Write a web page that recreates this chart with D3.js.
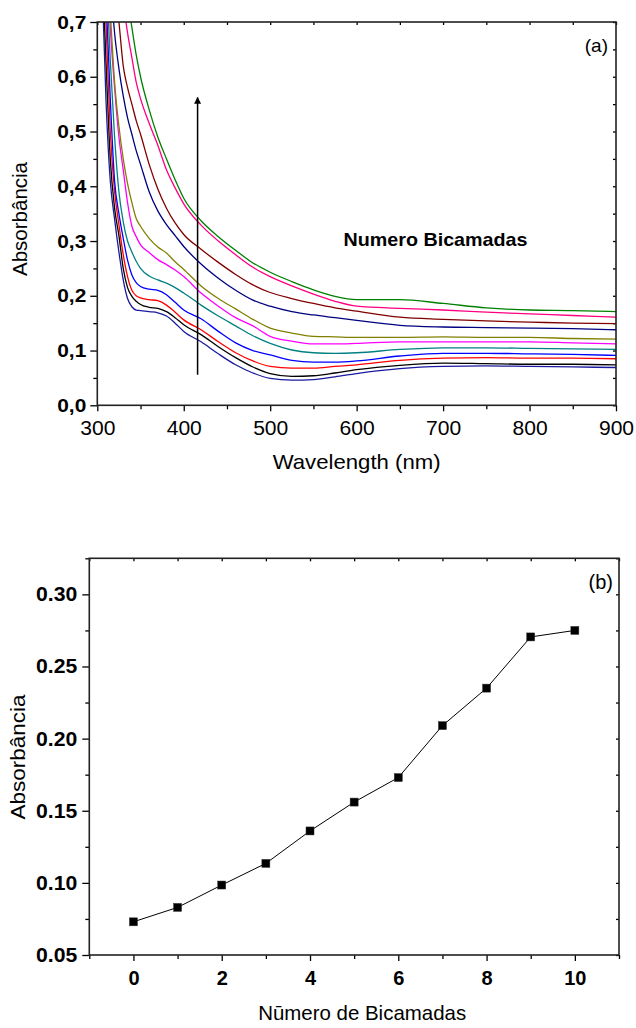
<!DOCTYPE html>
<html><head><meta charset="utf-8">
<script src="https://cdn.jsdelivr.net/npm/d3@7"></script>
<style>
html,body{margin:0;padding:0;background:#fff;}
svg{display:block;font-family:"Liberation Sans",Arial,sans-serif;}
</style></head>
<body>
<svg id="c" width="636" height="1028"></svg>
<script>
// ---------- data: panel (a) ----------
const wavelengths = [300,305,310,315,320,325,330,335,340,345,350,360,370,380,390,400,420,440,460,480,500,525,550,575,600,650,700,750,800,850,900];
const abs0  = [1.0,0.80,0.56,0.41,0.34,0.28,0.229,0.195,0.18,0.174,0.173,0.171,0.169,0.163,0.15,0.135,0.116,0.094,0.074,0.059,0.049,0.046,0.047,0.052,0.058,0.067,0.071,0.072,0.071,0.070,0.069];
const abs1  = [1.0,0.83,0.63,0.45,0.36,0.31,0.25,0.215,0.199,0.19,0.184,0.179,0.177,0.171,0.16,0.147,0.129,0.107,0.087,0.07,0.058,0.053,0.054,0.059,0.065,0.073,0.077,0.076,0.075,0.075,0.074];
const abs2  = [1.0,0.87,0.70,0.50,0.39,0.33,0.275,0.235,0.21,0.2,0.196,0.193,0.191,0.183,0.17,0.156,0.138,0.116,0.096,0.081,0.071,0.068,0.068,0.071,0.074,0.082,0.086,0.087,0.086,0.086,0.085];
const abs3  = [1.0,0.90,0.75,0.56,0.41,0.35,0.305,0.265,0.238,0.224,0.217,0.212,0.21,0.202,0.188,0.174,0.158,0.135,0.114,0.1,0.092,0.082,0.079,0.079,0.081,0.09,0.095,0.095,0.094,0.093,0.091];
const abs4  = [1.0,0.93,0.80,0.63,0.49,0.39,0.335,0.30,0.28,0.263,0.25,0.236,0.229,0.223,0.215,0.205,0.183,0.163,0.145,0.127,0.113,0.101,0.096,0.095,0.096,0.102,0.105,0.105,0.104,0.103,0.102];
const abs5  = [1.0,0.95,0.85,0.69,0.58,0.49,0.43,0.37,0.327,0.308,0.293,0.279,0.266,0.257,0.247,0.235,0.205,0.181,0.16,0.145,0.126,0.117,0.112,0.112,0.113,0.116,0.116,0.116,0.116,0.114,0.112];
const abs6  = [1.0,0.97,0.87,0.72,0.59,0.51,0.45,0.405,0.37,0.341,0.327,0.305,0.289,0.278,0.262,0.248,0.218,0.195,0.176,0.157,0.141,0.132,0.126,0.125,0.124,0.124,0.125,0.124,0.124,0.122,0.121];
const abs7  = [1.0,1.0,0.9,0.78,0.68,0.615,0.565,0.525,0.495,0.465,0.44,0.39,0.355,0.33,0.31,0.29,0.258,0.232,0.21,0.192,0.181,0.171,0.165,0.16,0.155,0.146,0.143,0.142,0.141,0.14,0.138];
const abs8  = [1.0,1.0,0.95,0.86,0.77,0.70,0.62,0.58,0.55,0.52,0.495,0.44,0.395,0.36,0.333,0.312,0.285,0.261,0.239,0.22,0.206,0.195,0.186,0.178,0.172,0.161,0.157,0.154,0.152,0.15,0.149];
const abs9  = [1.0,1.0,1.0,0.95,0.9,0.82,0.74,0.68,0.635,0.59,0.56,0.515,0.475,0.43,0.397,0.368,0.329,0.3,0.275,0.252,0.235,0.218,0.203,0.19,0.181,0.177,0.174,0.17,0.167,0.164,0.161];
const abs10 = [1.0,1.0,1.0,1.0,0.95,0.87,0.8,0.74,0.69,0.64,0.6,0.54,0.49,0.45,0.412,0.378,0.337,0.308,0.283,0.26,0.243,0.226,0.211,0.199,0.193,0.193,0.186,0.178,0.174,0.173,0.171];
const spectra = [abs0,abs1,abs2,abs3,abs4,abs5,abs6,abs7,abs8,abs9,abs10];
const spectraColors = ["#1a1aa0","#000000","#ff0000","#0000ff","#008080","#ff00ff","#808000","#000080","#800000","#ff0080","#008000"];
const xTicksA = [300,400,500,600,700,800,900];
const yTicksA = [0,0.1,0.2,0.3,0.4,0.5,0.6,0.7];
const arrowLambda = 416, arrowFrom = 0.056, arrowTo = 0.562;

// ---------- data: panel (b) ----------
const bilayers = [0,1,2,3,4,5,6,7,8,9,10];
const absorbanceB = [0.073,0.083,0.0985,0.1135,0.136,0.156,0.173,0.209,0.235,0.2705,0.275];
const xTicksB = [0,2,4,6,8,10];
const yTicksB = [0.05,0.10,0.15,0.20,0.25,0.30];

const svg = d3.select("#c");
const FONT = '"Liberation Sans",Arial,sans-serif';

function stretch(sel,k){ sel.each(function(){ const L=this.getComputedTextLength(); this.setAttribute("textLength",L*k); this.setAttribute("lengthAdjust","spacingAndGlyphs"); }); }
function fitWidth(sel,w){ sel.attr("textLength",w).attr("lengthAdjust","spacingAndGlyphs"); }
function styleAxis(g){ g.select(".domain").remove(); g.selectAll("line").attr("stroke","#000").attr("stroke-width",1.3); }

// ================= Panel (a) =================
const A = {l:97.3, r:616, t:22, b:405.3};
const xa = d3.scaleLinear().domain([300,900]).range([A.l,A.r]);
const ya = d3.scaleLinear().domain([0,0.7]).range([A.b,A.t]);
const ga = svg.append("g");
ga.append("clipPath").attr("id","clipA").append("rect").attr("x",A.l).attr("y",A.t).attr("width",A.r-A.l).attr("height",A.b-A.t);

const minorXA = d3.range(350,900,100);
const minorYA = d3.range(0.05,0.7,0.1);
const fmtComma = d => d3.format(".1f")(d).replace(".",",");

let ax = ga.append("g").attr("transform",`translate(0,${A.b})`).call(d3.axisBottom(xa).tickValues(xTicksA).tickSize(6).tickPadding(10).tickSizeOuter(0));
styleAxis(ax);
ax.selectAll("text").attr("font-size",19.5).attr("font-family",FONT).attr("fill","#000").call(stretch,1.08);
ax = ga.append("g").attr("transform",`translate(0,${A.b})`).call(d3.axisBottom(xa).tickValues(minorXA).tickSize(4).tickFormat("").tickSizeOuter(0));
styleAxis(ax);
ax = ga.append("g").attr("transform",`translate(0,${A.t})`).call(d3.axisBottom(xa).tickValues(xTicksA.concat(minorXA)).tickSize(3).tickFormat("").tickSizeOuter(0));
styleAxis(ax);
ax = ga.append("g").attr("transform",`translate(${A.l},0)`).call(d3.axisLeft(ya).tickValues(yTicksA).tickSize(7).tickPadding(4).tickFormat(fmtComma).tickSizeOuter(0));
styleAxis(ax);
ax.selectAll("text").attr("font-size",19).attr("font-weight","bold").attr("font-family",FONT).attr("fill","#000").call(stretch,1.1);
ax = ga.append("g").attr("transform",`translate(${A.l},0)`).call(d3.axisLeft(ya).tickValues(minorYA).tickSize(4).tickFormat("").tickSizeOuter(0));
styleAxis(ax);
ax = ga.append("g").attr("transform",`translate(${A.r},0)`).call(d3.axisLeft(ya).tickValues(yTicksA.concat(minorYA)).tickSize(3).tickFormat("").tickSizeOuter(0));
styleAxis(ax);

const lineA = d3.line().x((d,i)=>xa(wavelengths[i])).y(d=>ya(d)).curve(d3.curveMonotoneX);
ga.append("g").attr("clip-path","url(#clipA)").selectAll("path").data(spectra).join("path")
  .attr("d",lineA).attr("fill","none").attr("stroke",(d,i)=>spectraColors[i]).attr("stroke-width",1.3);

ga.append("rect").attr("x",A.l).attr("y",A.t).attr("width",A.r-A.l).attr("height",A.b-A.t)
  .attr("fill","none").attr("stroke","#222").attr("stroke-width",1.6);

const defs = svg.append("defs");
defs.append("marker").attr("id","ah").attr("viewBox","0 0 10 10").attr("refX",9).attr("refY",5)
  .attr("markerWidth",7).attr("markerHeight",10).attr("markerUnits","userSpaceOnUse").attr("orient","auto")
  .append("path").attr("d","M0,0 L10,5 L0,10 Z").attr("fill","#000");
ga.append("line").attr("x1",xa(arrowLambda)).attr("x2",xa(arrowLambda)).attr("y1",ya(arrowFrom)).attr("y2",ya(arrowTo))
  .attr("stroke","#000").attr("stroke-width",1.5).attr("marker-end","url(#ah)");

ga.append("text").attr("x",608).attr("y",52).attr("text-anchor","end").attr("font-size",19).attr("font-family",FONT).text("(a)");
ga.append("text").attr("x",343.5).attr("y",246).attr("font-size",19).attr("font-weight","bold").attr("font-family",FONT)
  .text("Numero Bicamadas").call(fitWidth,184);
ga.append("text").attr("x",(A.l+A.r)/2).attr("y",469).attr("text-anchor","middle").attr("font-size",21).attr("font-family",FONT)
  .text("Wavelength (nm)").call(fitWidth,168);
ga.append("text").attr("transform",`translate(26.5,219) rotate(-90)`).attr("text-anchor","middle").attr("font-size",20).attr("font-family",FONT)
  .text("Absorbância").call(fitWidth,114);

// ================= Panel (b) =================
const B = {l:89.3, r:619, t:558.3, b:955};
const xb = d3.scaleLinear().domain([-1,11]).range([B.l,B.r]);
const yb = d3.scaleLinear().domain([0.05,0.325]).range([B.b,B.t]);
const gb = svg.append("g");
const minorXB = [-1,1,3,5,7,9,11];
const minorYB = [0.075,0.125,0.175,0.225,0.275,0.325];

ax = gb.append("g").attr("transform",`translate(0,${B.b})`).call(d3.axisBottom(xb).tickValues(xTicksB).tickSize(6).tickPadding(10).tickFormat(d3.format("d")).tickSizeOuter(0));
styleAxis(ax);
ax.selectAll("text").attr("font-size",20).attr("font-weight","bold").attr("font-family",FONT).attr("fill","#000");
ax = gb.append("g").attr("transform",`translate(0,${B.b})`).call(d3.axisBottom(xb).tickValues(minorXB).tickSize(4).tickFormat("").tickSizeOuter(0));
styleAxis(ax);
ax = gb.append("g").attr("transform",`translate(0,${B.t})`).call(d3.axisBottom(xb).tickValues(xTicksB.concat(minorXB)).tickSize(3).tickFormat("").tickSizeOuter(0));
styleAxis(ax);
ax = gb.append("g").attr("transform",`translate(${B.l},0)`).call(d3.axisLeft(yb).tickValues(yTicksB).tickSize(7).tickPadding(5).tickFormat(d3.format(".2f")).tickSizeOuter(0));
styleAxis(ax);
ax.selectAll("text").attr("font-size",20).attr("font-weight","bold").attr("font-family",FONT).attr("fill","#000").call(stretch,1.06);
ax = gb.append("g").attr("transform",`translate(${B.l},0)`).call(d3.axisLeft(yb).tickValues(minorYB).tickSize(4).tickFormat("").tickSizeOuter(0));
styleAxis(ax);
ax = gb.append("g").attr("transform",`translate(${B.r},0)`).call(d3.axisLeft(yb).tickValues(yTicksB.concat(minorYB)).tickSize(3).tickFormat("").tickSizeOuter(0));
styleAxis(ax);

const lineB = d3.line().x((d,i)=>xb(bilayers[i])).y(d=>yb(d));
gb.append("path").datum(absorbanceB).attr("d",lineB).attr("fill","none").attr("stroke","#000").attr("stroke-width",1);
gb.selectAll("rect.pt").data(absorbanceB).join("rect").attr("class","pt")
  .attr("x",(d,i)=>xb(bilayers[i])-4).attr("y",d=>yb(d)-4).attr("width",8).attr("height",8)
  .attr("fill","#000").attr("stroke","#333").attr("stroke-width",0.5);

gb.append("rect").attr("x",B.l).attr("y",B.t).attr("width",B.r-B.l).attr("height",B.b-B.t)
  .attr("fill","none").attr("stroke","#222").attr("stroke-width",1.6);

gb.append("text").attr("x",613).attr("y",589).attr("text-anchor","end").attr("font-size",20).attr("font-family",FONT).text("(b)");
gb.append("text").attr("x",(B.l+B.r)/2 + 8).attr("y",1020).attr("text-anchor","middle").attr("font-size",21).attr("font-family",FONT)
  .text("Nūmero de Bicamadas").call(fitWidth,208);
gb.append("text").attr("transform",`translate(25,757) rotate(-90)`).attr("text-anchor","middle").attr("font-size",21).attr("font-family",FONT)
  .text("Absorbância").call(fitWidth,125);
</script>
</body></html>
